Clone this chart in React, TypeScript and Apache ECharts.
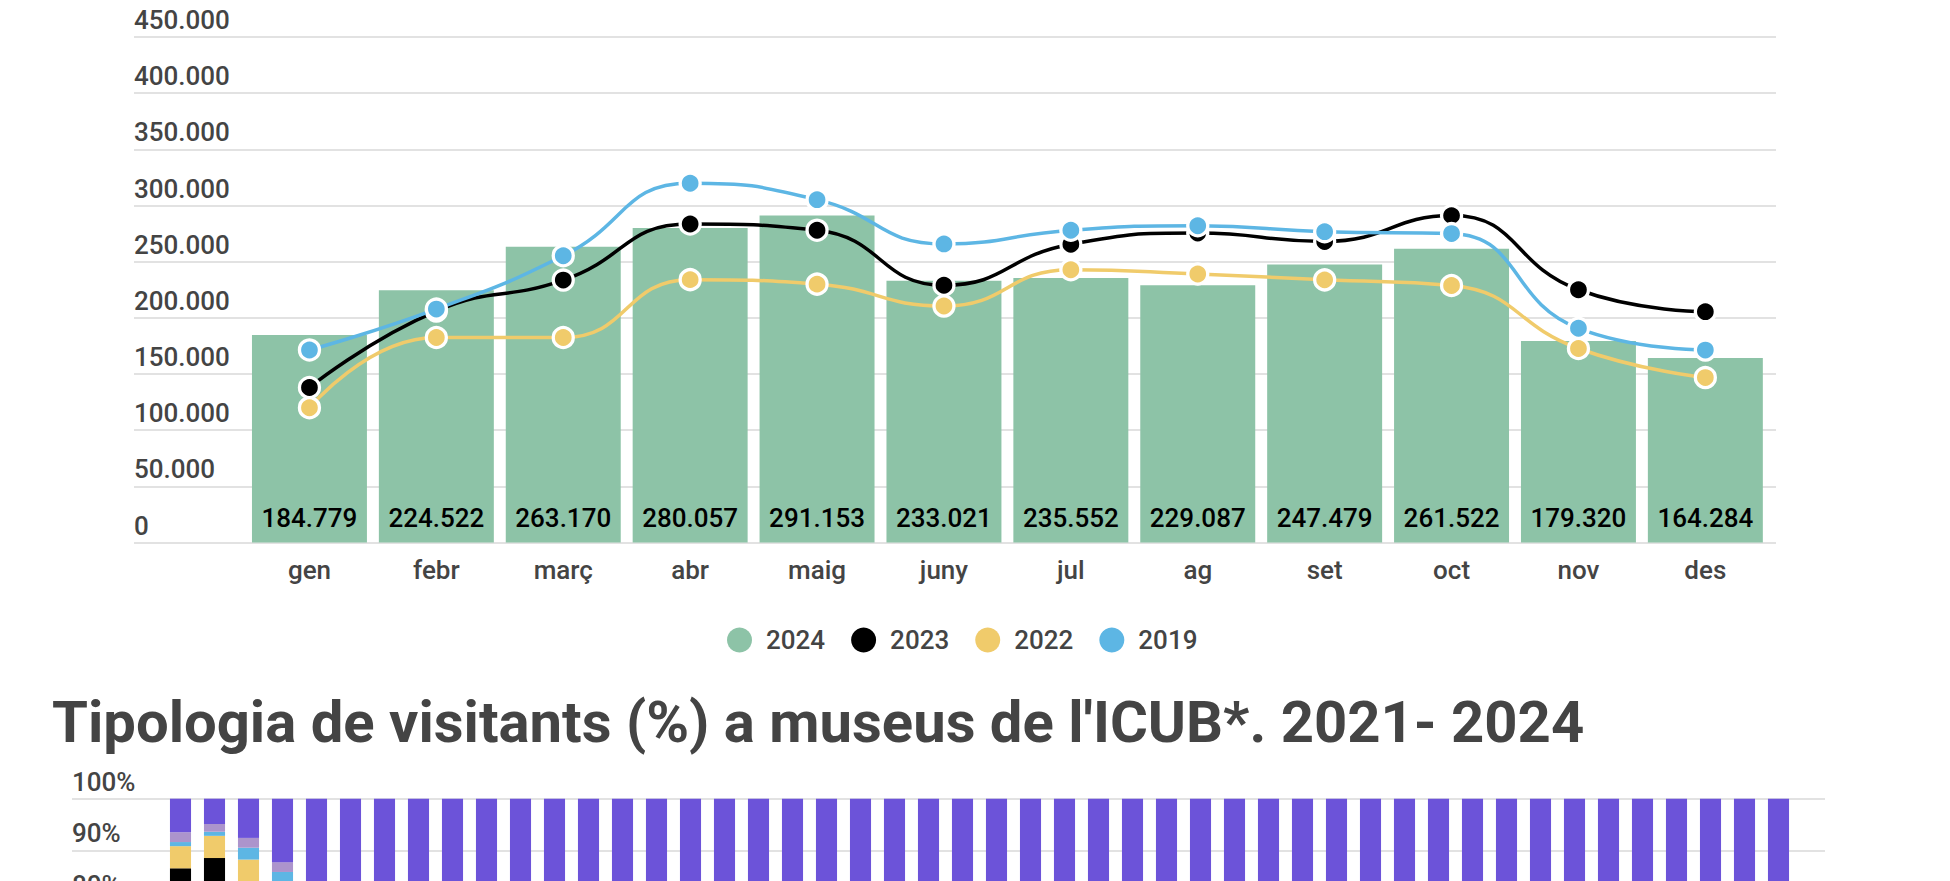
import React, { useEffect, useRef } from "react";
import * as echarts from "echarts";

// ---------- Top chart data ----------
const months = ["gen", "febr", "març", "abr", "maig", "juny", "jul", "ag", "set", "oct", "nov", "des"];
const visitors2024 = [184779, 224522, 263170, 280057, 291153, 233021, 235552, 229087, 247479, 261522, 179320, 164284];
const visitors2023 = [138000, 206000, 233600, 283500, 278000, 229000, 265500, 275500, 268000, 291000, 225000, 205500];
const visitors2022 = [120000, 182500, 182500, 234000, 230000, 210500, 242800, 239000, 233800, 228800, 172700, 146800];
const visitors2019 = [171400, 207800, 255300, 319800, 305200, 265800, 278000, 282000, 276700, 275000, 190700, 171300];
const topAxisMin = 0;
const topAxisMax = 450000;
const topAxisStep = 50000;

// ---------- Bottom chart data (only the top part is visible) ----------
const years = ["2021", "2022", "2023", "2024"];
const periodLabels = years.flatMap((y) => months.map((m) => `${m} ${y}`));
const bottomTickLabelsShown = [80, 90, 100];
const typeBlack = [86.5, 88.5, 82.2, 78.3, 0, 0, 0, 0, 0, 0, 0, 0, 0, 0, 0, 0, 0, 0, 0, 0, 0, 0, 0, 0, 0, 0, 0, 0, 0, 0, 0, 0, 0, 0, 0, 0, 0, 0, 0, 0, 0, 0, 0, 0, 0, 0, 0, 0];
const typeYellow = [4.3, 4.3, 6.0, 5.0, 0, 0, 0, 0, 0, 0, 0, 0, 0, 0, 0, 0, 0, 0, 0, 0, 0, 0, 0, 0, 0, 0, 0, 0, 0, 0, 0, 0, 0, 0, 0, 0, 0, 0, 0, 0, 0, 0, 0, 0, 0, 0, 0, 0];
const typeBlue = [0.8, 0.8, 2.3, 2.5, 0, 0, 0, 0, 0, 0, 0, 0, 0, 0, 0, 0, 0, 0, 0, 0, 0, 0, 0, 0, 0, 0, 0, 0, 0, 0, 0, 0, 0, 0, 0, 0, 0, 0, 0, 0, 0, 0, 0, 0, 0, 0, 0, 0];
const typeLilac = [1.9, 1.5, 1.9, 1.9, 0, 0, 0, 0, 0, 0, 0, 0, 0, 0, 0, 0, 0, 0, 0, 0, 0, 0, 0, 0, 0, 0, 0, 0, 0, 0, 0, 0, 0, 0, 0, 0, 0, 0, 0, 0, 0, 0, 0, 0, 0, 0, 0, 0];
const typePurple = [6.5, 4.9, 7.6, 12.3, 100, 100, 100, 100, 100, 100, 100, 100, 100, 100, 100, 100, 100, 100, 100, 100, 100, 100, 100, 100, 100, 100, 100, 100, 100, 100, 100, 100, 100, 100, 100, 100, 100, 100, 100, 100, 100, 100, 100, 100, 100, 100, 100, 100];

const titleText = "Tipologia de visitants (%) a museus de l'ICUB*. 2021- 2024";

const fmtThousands = (v: number) => String(Math.round(v)).replace(/\B(?=(\d{3})+(?!\d))/g, ".");

const TEXT = "#444444";
const GRID = "#d9d9d9";

export default function App() {
  const ref = useRef<HTMLDivElement>(null);

  useEffect(() => {
    document.body.style.margin = "0";
    const chart = echarts.init(ref.current!, null, { renderer: "svg" });

    const lineSeries = (name: string, data: number[], color: string, z: number) => ({
      name,
      type: "line",
      xAxisIndex: 1,
      yAxisIndex: 1,
      data,
      smooth: true,
      symbol: "circle",
      symbolSize: 20,
      z,
      lineStyle: { width: 3.5, color },
      itemStyle: { color, borderColor: "#ffffff", borderWidth: 3.3 },
    });

    const stackSeries = (name: string, data: number[], color: string) => ({
      name,
      type: "bar",
      stack: "tipologia",
      xAxisIndex: 3,
      yAxisIndex: 3,
      data,
      barCategoryGap: "38%",
      itemStyle: { color },
    });

    const option: any = {
      animation: false,
      textStyle: { fontFamily: "Roboto" },
      title: {
        text: titleText,
        left: 52,
        top: 693,
        padding: 0,
        textStyle: { fontSize: 58, fontWeight: "bold", color: TEXT, fontFamily: "Roboto" },
      },
      legend: {
        data: ["2024", "2023", "2022", "2019"],
        left: 722,
        top: 622,
        icon: "circle",
        itemWidth: 25,
        itemHeight: 25,
        itemGap: 26,
        itemStyle: { borderWidth: 0 },
        textStyle: { fontSize: 26, fontWeight: 500, color: TEXT, padding: [0, 0, 0, 9] },
      },
      grid: [
        { left: 134, top: 37, width: 1642, height: 505.5 },
        { left: 246, top: 37, width: 1522.8, height: 505.5 },
        { left: 72, top: 798.7, width: 1753, height: 516 },
        { left: 163.5, top: 798.7, width: 1632, height: 516 },
      ],
      xAxis: [
        { gridIndex: 0, type: "value", min: 0, max: 1, show: false },
        {
          gridIndex: 1,
          type: "category",
          data: months,
          axisLine: { show: false },
          axisTick: { show: false },
          axisLabel: { fontSize: 26, fontWeight: 500, color: TEXT, margin: 14 },
        },
        { gridIndex: 2, type: "value", min: 0, max: 1, show: false },
        {
          gridIndex: 3,
          type: "category",
          data: periodLabels,
          axisLine: { show: false },
          axisTick: { show: false },
          axisLabel: { show: false },
        },
      ],
      yAxis: [
        {
          gridIndex: 0,
          type: "value",
          min: topAxisMin,
          max: topAxisMax,
          interval: topAxisStep,
          axisLine: { show: false },
          axisTick: { show: false },
          splitLine: { show: true, lineStyle: { color: GRID, width: 1.5 } },
          axisLabel: {
            inside: true,
            margin: 0,
            align: "left",
            verticalAlign: "bottom",
            padding: [0, 0, 4, 0],
            fontSize: 26,
            fontWeight: 500,
            color: TEXT,
            formatter: (v: number) => fmtThousands(v),
          },
        },
        { gridIndex: 1, type: "value", min: topAxisMin, max: topAxisMax, show: false, splitLine: { show: false } },
        {
          gridIndex: 2,
          type: "value",
          min: 0,
          max: 100,
          interval: 10,
          axisLine: { show: false },
          axisTick: { show: false },
          splitLine: { show: true, lineStyle: { color: GRID, width: 1.5 } },
          axisLabel: {
            inside: true,
            margin: 0,
            align: "left",
            verticalAlign: "bottom",
            padding: [0, 0, 4, 0],
            fontSize: 26,
            fontWeight: 500,
            color: TEXT,
            formatter: (v: number) => (bottomTickLabelsShown.includes(v) ? `${v}%` : ""),
          },
        },
        { gridIndex: 3, type: "value", min: 0, max: 100, show: false, splitLine: { show: false } },
      ],
      series: [
        {
          name: "2024",
          type: "bar",
          xAxisIndex: 1,
          yAxisIndex: 1,
          data: visitors2024,
          barCategoryGap: "9.4%",
          itemStyle: { color: "#8dc3a7" },
          z: 2,
          label: {
            show: true,
            position: "insideBottom",
            distance: 12,
            fontSize: 26,
            fontWeight: 500,
            color: "#000000",
            formatter: (p: any) => fmtThousands(p.value),
          },
        },
        lineSeries("2023", visitors2023, "#000000", 3),
        lineSeries("2022", visitors2022, "#f0cb6b", 4),
        lineSeries("2019", visitors2019, "#5db6e4", 5),
        stackSeries("t1", typeBlack, "#000000"),
        stackSeries("t2", typeYellow, "#f0cb6b"),
        stackSeries("t3", typeBlue, "#5db6e4"),
        stackSeries("t4", typeLilac, "#ac94cc"),
        stackSeries("t5", typePurple, "#6c53d9"),
      ],
    };

    chart.setOption(option);
    return () => chart.dispose();
  }, []);

  return (
    <div style={{ position: "fixed", left: 0, top: 0, width: 1950, height: 881, overflow: "hidden", background: "#ffffff" }}>
      <div ref={ref} style={{ width: 1950, height: 1330 }} />
    </div>
  );
}
